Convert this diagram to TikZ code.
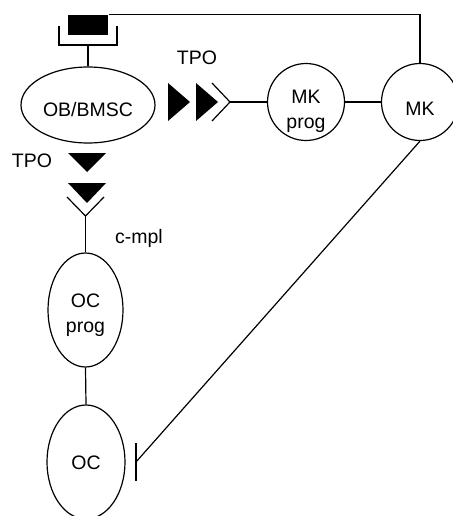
\documentclass[tikz,border=0pt]{standalone}
\usepackage{fontspec}
\setmainfont{Liberation Sans}
\usetikzlibrary{shapes.geometric}
\begin{document}
\begin{tikzpicture}[x=1pt,y=-1pt,
  line width=1.2pt,
  every node/.style={font=\fontsize{19.5}{25}\selectfont, inner sep=0pt},
  ell/.style={draw, ellipse},
  circ/.style={draw, circle, minimum size=77pt},
  txt/.style={align=center}
]
\useasboundingbox (0,0) rectangle (452,516);
% shapes
\node[ell, minimum width=134pt, minimum height=76pt] (OB) at (88,105) {};
\node[circ] (MKp) at (306,102) {};
\node[circ] (MK) at (420,102) {};
\node[ell, minimum width=75pt, minimum height=114pt] (OCp) at (85.5,310) {};
\node[ell, minimum width=78pt, minimum height=114pt] (OC) at (86,462) {};
\node[fill=black, minimum width=40pt, minimum height=20pt] (rec) at (88,25) {};
% texts
\node[txt] (OBt) at (88,109.5) {OB/BMSC};
\node[txt] (MKpt) at (306,111) {MK\\prog};
\node[txt] (MKt) at (420,108.5) {MK};
\node[txt] (OCpt) at (85.5,315) {OC\\prog};
\node[txt] (OCt) at (86,462.5) {OC};
\node (tpo1) at (197,58) {TPO};
\node (tpo2) at (32,161) {TPO};
\node (cmpl) at (139,238) {c-mpl};
% receptor bracket
\draw (59,26) -- (59,45) -- (117,45) -- (117,26);
\coordinate (brb) at (88,45);
\draw (brb) -- (OB.north);
\draw (rec.north east) -| (MK.north);
% horizontal TPO triangles
\fill (168,83) -- (168,121) -- (190,102) -- cycle;
\fill (196,83) -- (196,121) -- (218,102) -- cycle;
\coordinate (ch1) at (230,102);
\draw (212,83) -- (ch1) -- (212,121);
\draw (ch1) -- (MKp.west);
\draw (MKp.east) -- (MK.west);
% vertical TPO triangles
\fill (68,153) -- (106,153) -- (87,172) -- cycle;
\fill (68,183) -- (106,183) -- (87,203) -- cycle;
\coordinate (ch2) at (85.5,216);
\draw (67,197) -- (ch2) -- (104,197);
\draw (ch2) -- (OCp.north);
\draw (OCp.south) -- (OC.north);
% inhibition
\coordinate (bar) at (136,462);
\draw (MK.south) -- (bar);
\draw (136,443) -- (136,481);
\end{tikzpicture}
\end{document}
